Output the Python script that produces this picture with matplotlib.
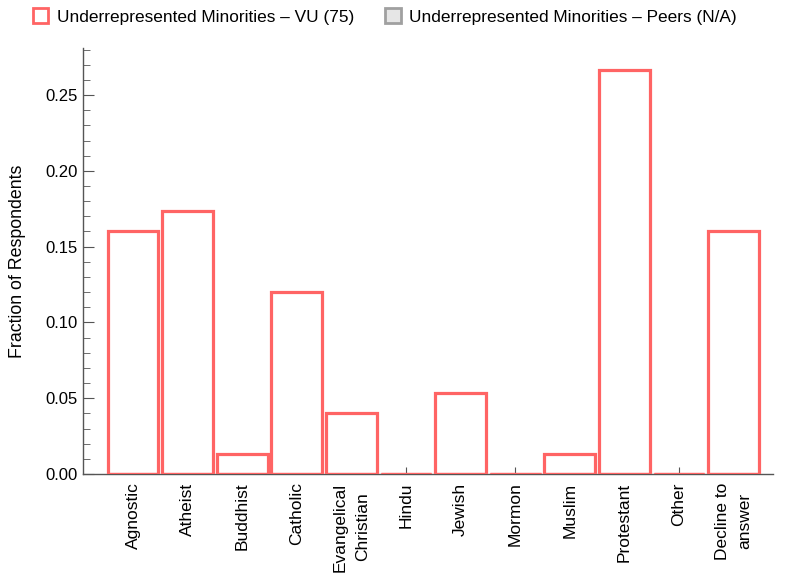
import matplotlib
matplotlib.use("Agg")
import matplotlib.pyplot as plt
from matplotlib.patches import Patch
from matplotlib.ticker import MultipleLocator

plt.rcParams['font.family'] = ['Liberation Sans', 'DejaVu Sans']

#dados
categorias = ["Agnostic", "Atheist", "Buddhist", "Catholic", "Evangelical\nChristian", "Hindu",
              "Jewish", "Mormon", "Muslim", "Protestant", "Other", "Decline to\nanswer"]
vu_valores = [0.16, 0.1733, 0.0133, 0.12, 0.04, 0.0, 0.0533, 0.0, 0.0133, 0.2667, 0.0, 0.16]

vermelho = "#ff6464"
cinza_eixo = "#555555"

def main():
    fig = plt.figure(figsize=(7.85, 5.86), dpi=100)
    ax = fig.add_axes([0.1057, 0.191, 0.879, 0.727])

    x = list(range(len(categorias)))
    ax.bar(x, vu_valores, width=0.93, facecolor="white", edgecolor=vermelho, linewidth=2.3, zorder=3)
    # linha na base para barras vazias
    ax.bar(x, [0.0005] * len(x), width=0.93, facecolor=vermelho, edgecolor=vermelho, linewidth=1.0, zorder=4, alpha=0.6)

    ax.set_xlim(-0.916, 11.72)
    ax.set_ylim(0, 0.281)
    ax.set_xticks(x)
    ax.set_xticklabels(categorias, rotation=90, fontsize=12.5, va="top", linespacing=1.55)
    ax.yaxis.set_major_locator(MultipleLocator(0.05))
    ax.yaxis.set_minor_locator(MultipleLocator(0.01))
    ax.yaxis.set_major_formatter(matplotlib.ticker.FormatStrFormatter("%.2f"))
    ax.tick_params(axis="y", which="major", direction="in", length=8, color=cinza_eixo, labelsize=12, pad=4)
    ax.tick_params(axis="y", which="minor", direction="in", length=5, color=cinza_eixo)
    ax.tick_params(axis="x", direction="in", length=5, color=cinza_eixo, pad=6)
    for lado in ["top", "right"]:
        ax.spines[lado].set_visible(False)
    for lado in ["left", "bottom"]:
        ax.spines[lado].set_color(cinza_eixo)
        ax.spines[lado].set_linewidth(1.0)
    ax.set_ylabel("Fraction of Respondents", fontsize=12.8, labelpad=14)

    itens = [Patch(facecolor="white", edgecolor=vermelho, linewidth=2.0, label="Underrepresented Minorities \u2013 VU (75)"),
             Patch(facecolor="#e6e6e6", edgecolor="#a0a0a0", linewidth=2.0, label="Underrepresented Minorities \u2013 Peers (N/A)")]
    fig.legend(handles=itens, loc="upper left", bbox_to_anchor=(0.022, 1.012), ncol=2, frameon=False,
               fontsize=12.4, handlelength=0.9, handleheight=0.9, columnspacing=1.8, handletextpad=0.5)

    fig.savefig("out.png", dpi=100)
    return 0


if __name__ == "__main__":
    SystemExit(main())
